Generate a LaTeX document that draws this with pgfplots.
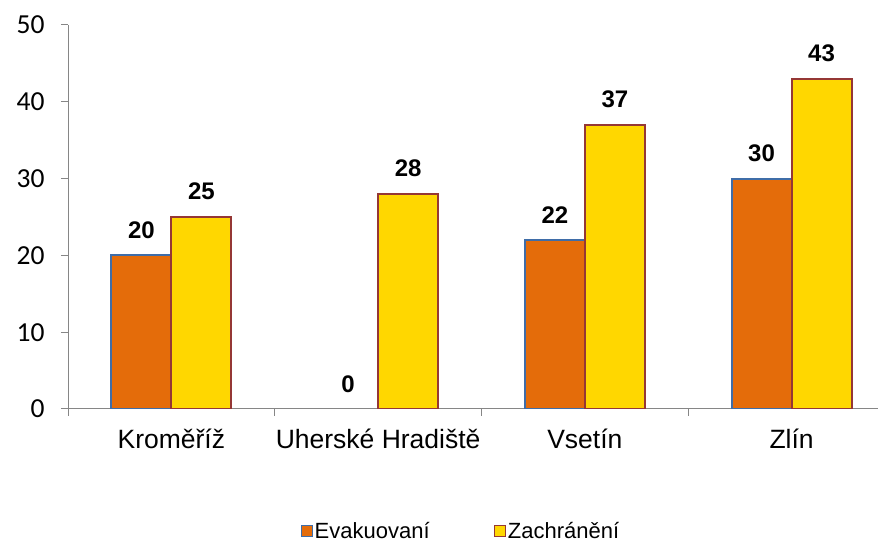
\documentclass[border=0pt]{standalone}
\usepackage{fontspec}
\setmainfont{Liberation Sans}
\newfontfamily\carlito{Carlito}
\usepackage{pgfplots}
\pgfplotsset{compat=1.18}
\definecolor{orng}{HTML}{E46C0A}
\definecolor{blueedge}{HTML}{3F6DA8}
\definecolor{yel}{HTML}{FFD700}
\definecolor{rededge}{HTML}{953735}
\definecolor{axgray}{HTML}{868686}
\begin{document}
\begin{tikzpicture}[x=1pt,y=1pt]
\useasboundingbox (-67,-136) rectangle (811,409);
\begin{axis}[
  at={(1pt,0)}, anchor=south west, scale only axis,
  width=810pt, height=384pt,
  xmin=-0.5, xmax=3.418, ymin=0, ymax=50,
  ybar, bar width=60pt,
  axis x line=bottom, axis y line=left,
  axis line style={-, draw=axgray, line width=1pt},
  ytick={0,10,20,30,40,50},
  tick align=outside, major tick length=7pt,
  tick style={draw=axgray, line width=1pt},
  /pgf/number format/assume math mode=true,
  yticklabel style={font=\carlito\fontsize{27.5}{27.5}\selectfont, xshift=-13pt},
  xtick={-0.5,0.5,1.5,2.5}, xticklabels={},
  extra x ticks={0,1,2,3},
  extra x tick labels={Kroměříž, Uherské Hradiště, Vsetín, Zlín},
  extra x tick style={major tick length=0pt, tick label style={font=\fontsize{26.5}{26.5}\selectfont, yshift=-16pt}},
  legend style={draw=none, at={(axis description cs:0.485,-0.318)}, anchor=center,
    legend columns=2, font=\fontsize{22}{22}\selectfont,
    nodes={inner sep=2pt},
    /tikz/every even column/.append style={column sep=62pt}},
  legend image code/.code={\draw[#1, line width=1.2pt] (0pt,-5.5pt) rectangle (11pt,5.5pt);},
  nodes near coords,
  every node near coord/.append style={font=\bfseries\fontsize{24}{24}\selectfont, inner sep=0pt, yshift=16pt, anchor=south, text=black},
]
\addplot[bar shift=-30pt, fill=orng, draw=blueedge, line width=2pt]
  coordinates {(0,20) (2,22) (3,30)};
\addlegendentry{Evakuovaní}
\addplot[bar shift=30pt, fill=yel, draw=rededge, line width=2pt]
  coordinates {(0,25) (1,28) (2,37) (3,43)};
\addlegendentry{Zachránění}
\addplot[bar shift=-30pt, draw=none, fill=none, forget plot]
  coordinates {(1,0)};
\end{axis}
\end{tikzpicture}
\end{document}
